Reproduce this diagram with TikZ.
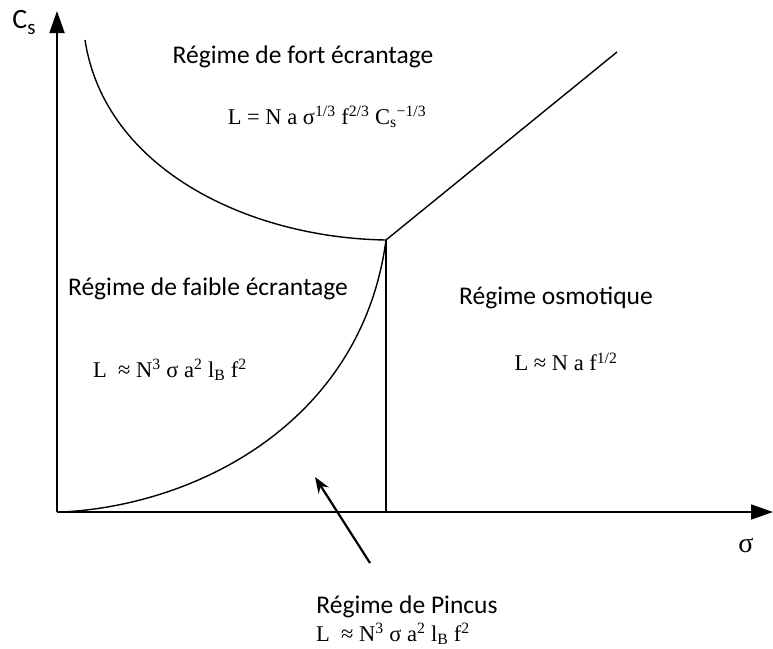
\documentclass[tikz,border=0pt]{standalone}
\usepackage{fontspec}
\setmainfont{Carlito}
\newfontfamily\tnr{Liberation Serif}
\usetikzlibrary{arrows.meta}
\tikzset{
  axis/.style={line width=1.8pt,-{Triangle[length=22pt,width=15pt]}},
  curve/.style={line width=1.4pt},
  lbl/.style={font=\fontsize{25.5}{28}\selectfont,inner sep=0pt},
  frm/.style={font=\tnr\fontsize{22.5}{26}\selectfont,inner sep=0pt},
  pointer/.style={line width=2.2pt,-{Stealth[length=16pt,width=12pt]}}
}
\newcommand{\sups}[1]{\textsuperscript{#1}}
\begin{document}
\begin{tikzpicture}[x=1pt,y=-1pt]
\useasboundingbox (0,0) rectangle (773,648);
\coordinate (O) at (57,512);
\coordinate (Ytop) at (57,11);
\coordinate (Xend) at (773,512);
\coordinate (T) at (386,240);
\coordinate (Tb) at (386,512);
\coordinate (R) at (617,52);
\coordinate (U0) at (85,40);
\coordinate (L0) at (62,512);
\draw[axis] (O) -- (Ytop);
\draw[axis] (O) -- (Xend);
\draw[curve] (U0) .. controls (105,170) and (250,238) .. (T);
\draw[curve] (L0) .. controls (200,505) and (362,420) .. (T);
\draw[curve] (T) -- (Tb);
\draw[curve] (T) -- (R);
\node[lbl,font=\fontsize{28}{30}\selectfont] (cs) at (24,22) {C\raisebox{-6pt}{\fontsize{21}{24}\selectfont s}};
\node[lbl] (sig) at (746,545) {\tnr\fontsize{28}{30}\selectfont σ};
\node[lbl] (fort) at (303,57) {Régime de fort écrantage};
\node[frm] (ffort) at (327,117) {L = N a σ\sups{1/3} f\sups{2/3} C\textsubscript{s}\sups{−1/3}};
\node[lbl] (faible) at (208,289) {Régime de faible écrantage};
\node[frm] (ffaible) at (170,370) {L ~≈ N\sups{3} σ a\sups{2} l\textsubscript{B} f\sups{2}};
\node[lbl] (osmo) at (556,298) {Régime osmotique};
\node[frm] (fosmo) at (566,362) {L ≈ N a f\sups{1/2}};
\node[lbl] (pincus) at (407,607) {Régime de Pincus};
\node[frm] (fpincus) at (393,634) {L ~≈ N\sups{3} σ a\sups{2} l\textsubscript{B} f\sups{2}};
\coordinate (Ptip) at (315,477);
\coordinate (Pstart) at (370,563);
\draw[pointer] (Pstart) -- (Ptip);
\end{tikzpicture}
\end{document}
